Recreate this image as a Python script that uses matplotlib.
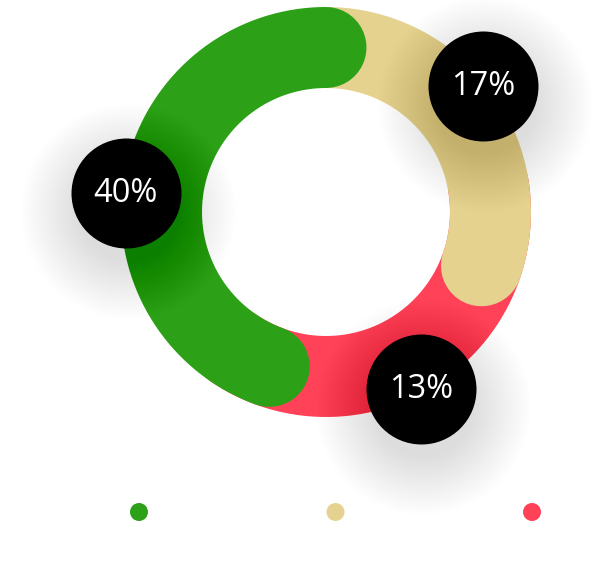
import numpy as np
import matplotlib
matplotlib.use("Agg")
import matplotlib.pyplot as plt
from matplotlib.transforms import offset_copy

# Segments, clockwise from the top of the ring
etiquetas = ["17%", "13%", "40%"]
parcelas = [0.303, 0.253, 0.444]          # share of the ring each colour occupies
cores = ["#E5D28F", "#FF4258", "#2CA118"]

# Legend order (left -> right)
legenda_cores = ["#2CA118", "#E5D28F", "#FF4258"]

W, H, DPI = 610, 568, 100
CX, CY = 326, 212          # ring centre (px)
R_OUT, R_IN = 205, 124
R_MID = (R_OUT + R_IN) / 2
LARGURA = (R_OUT - R_IN) * 72 / DPI   # band width in points

fig = plt.figure(figsize=(W / DPI, H / DPI), dpi=DPI, facecolor="white")

# legend dots on a plain pixel axes
ax_leg = fig.add_axes([0, 0, 1, 1])
ax_leg.set_xlim(0, W)
ax_leg.set_ylim(H, 0)
ax_leg.axis("off")
xs = np.linspace(139, 532, len(legenda_cores))
ax_leg.scatter(xs, [512] * len(xs), s=(18 * 72 / DPI) ** 2, c=legenda_cores,
               linewidths=0)

# ring on a polar axes, r measured in pixels
ax = fig.add_axes([(CX - R_OUT) / W, (H - CY - R_OUT) / H,
                   2 * R_OUT / W, 2 * R_OUT / H], projection="polar")
ax.set_theta_zero_location("N")
ax.set_theta_direction(-1)
ax.set_rlim(0, R_OUT)
ax.axis("off")
ax.patch.set_alpha(0)

limites = np.concatenate([[0], np.cumsum(parcelas)]) * 2 * np.pi
ini, fim = limites[:-1], limites[1:]

# red goes underneath both neighbours, beige under green
extra = [(0.0, 0.0), (0.5, 0.25), (0.0, 0.0)]
ordem_z = [2, 1, 3]
for i in range(3):
    t = np.linspace(ini[i] - extra[i][0], fim[i] + extra[i][1], 300)
    ax.plot(t, np.full_like(t, R_MID), color=cores[i], lw=LARGURA,
            solid_capstyle="round", zorder=ordem_z[i], clip_on=False)

# label bubbles with soft drop shadow
sombra = offset_copy(ax.transData, fig=fig, x=2, y=-18, units="dots")
for i, txt in enumerate(etiquetas):
    th = ini[i] + 0.47 * (fim[i] - ini[i])
    r = 201
    for k in range(34):
        d = 100 + k * 3.5
        ax.plot([th], [r], "o", ms=d * 72 / DPI, color="black", alpha=0.0028,
                mew=0, transform=sombra, zorder=5, clip_on=False)
    ax.plot([th], [r], "o", ms=110 * 72 / DPI, color="black", mew=0,
            zorder=6, clip_on=False)
    ax.text(th, r, txt, ha="center", va="center", color="white",
            fontsize=23.5, family="Open Sans", zorder=7)

fig.savefig("out.png", dpi=DPI, facecolor="white")
